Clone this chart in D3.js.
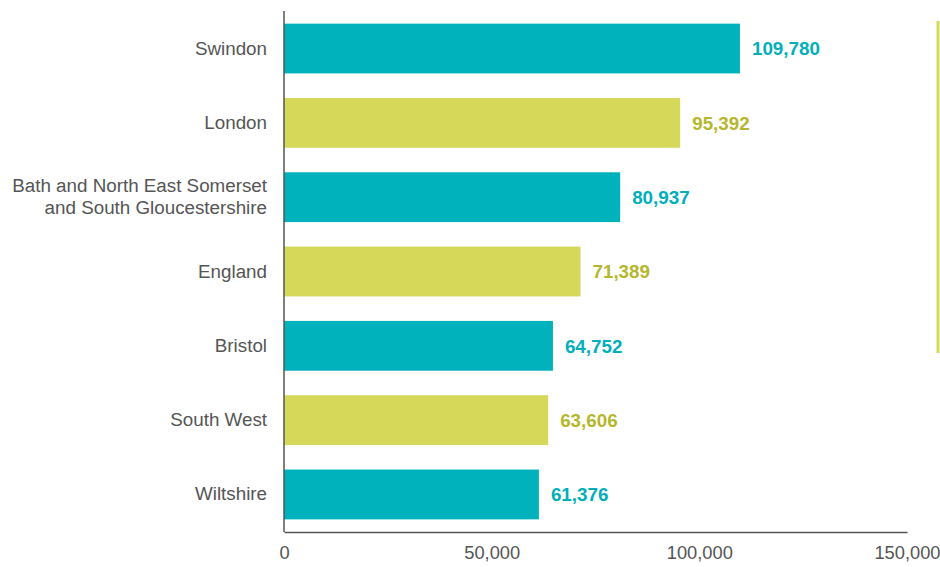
<!DOCTYPE html>
<html>
<head>
<meta charset="utf-8">
<script src="https://cdn.jsdelivr.net/npm/d3@7"></script>
<style>
  html, body { margin: 0; padding: 0; background: #fff; }
  svg { display: block; font-family: "Liberation Sans", Arial, sans-serif; }
</style>
</head>
<body>
<svg id="chart" width="940" height="567"></svg>
<script>
// Areas, in display order (top to bottom)
const categories = [
  "Swindon",
  "London",
  "Bath and North East Somerset\nand South Gloucestershire",
  "England",
  "Bristol",
  "South West",
  "Wiltshire"
];
const values = [109780, 95392, 80937, 71389, 64752, 63606, 61376];
const seriesType = ["local", "benchmark", "local", "benchmark", "local", "benchmark", "local"];
const xTicks = [0, 50000, 100000, 150000];

const barColor = { local: "#00B2BC", benchmark: "#D6D85A" };
const textColor = { local: "#00AFBA", benchmark: "#B5B72E" };

const svg = d3.select("#chart");
const plot = { left: 284, right: 907, top: 11, bottom: 532 };

const x = d3.scaleLinear().domain([0, 150000]).range([plot.left, plot.right]);
const y = d3.scaleBand().domain(categories).range([plot.top, plot.bottom]).paddingInner(0.33).paddingOuter(0.17);

// Bars
svg.selectAll("rect.bar")
  .data(categories)
  .join("rect")
  .attr("class", "bar")
  .attr("x", x(0))
  .attr("y", d => y(d))
  .attr("width", (d, i) => x(values[i]) - x(0))
  .attr("height", y.bandwidth())
  .attr("fill", (d, i) => barColor[seriesType[i]]);

// Value labels
const fmt = d3.format(",");
svg.selectAll("text.val")
  .data(categories)
  .join("text")
  .attr("class", "val")
  .attr("x", (d, i) => x(values[i]) + 12)
  .attr("y", d => y(d) + y.bandwidth() / 2)
  .attr("dy", "0.36em")
  .attr("font-size", 18.8)
  .attr("font-weight", "bold")
  .attr("fill", (d, i) => textColor[seriesType[i]])
  .text((d, i) => fmt(values[i]));

// Category axis
const yAxis = svg.append("g")
  .attr("transform", `translate(${plot.left},0)`)
  .call(d3.axisLeft(y).tickSize(0).tickPadding(17).tickFormat(() => ""));
yAxis.select(".domain").attr("stroke", "#555").attr("stroke-width", 1.5)
  .attr("d", `M0,${plot.top}V${plot.bottom}`);
yAxis.selectAll(".tick").each(function(d) {
  const lines = d.split("\n");
  const t = d3.select(this).select("text")
    .attr("font-size", 18.8)
    .attr("fill", "#555")
    .attr("font-family", "'Liberation Sans', Arial, sans-serif")
    .attr("text-anchor", "end");
  t.selectAll("tspan")
    .data(lines)
    .join("tspan")
    .attr("x", -17)
    .attr("dy", (l, i) => i === 0 ? `${0.32 - (lines.length - 1) * 0.6}em` : "1.2em")
    .text(l => l);
});

// Value axis
const xAxis = svg.append("g")
  .attr("transform", `translate(0,${plot.bottom})`)
  .call(d3.axisBottom(x).tickValues(xTicks).tickSize(0).tickPadding(14).tickFormat(fmt));
xAxis.select(".domain").attr("stroke", "#555").attr("stroke-width", 1.5);
xAxis.selectAll("text")
  .attr("font-size", 18.3)
  .attr("fill", "#555")
  .attr("font-family", "'Liberation Sans', Arial, sans-serif");

// Marker line at right edge
svg.append("line")
  .attr("x1", 938).attr("x2", 938)
  .attr("y1", 21).attr("y2", 353)
  .attr("stroke", "#D6D85A")
  .attr("stroke-width", 3);
</script>
</body>
</html>
